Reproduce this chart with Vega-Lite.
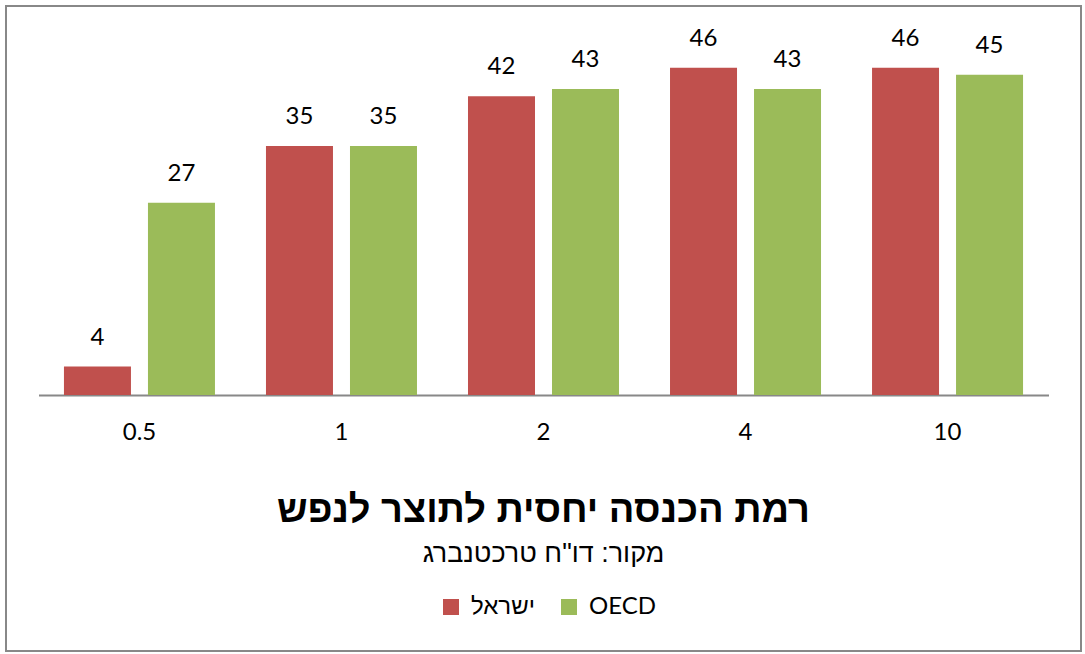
{
  "$schema": "https://vega.github.io/schema/vega-lite/v6.json",
  "width": 1075,
  "height": 645,
  "autosize": {"type": "none"},
  "padding": {"left": 6, "top": 6, "right": 4, "bottom": 3},
  "background": "white",
  "data": {
    "values": [
      {"cat": "0.5", "series": "ישראל", "value": 4},
      {"cat": "0.5", "series": "OECD", "value": 27},
      {"cat": "1", "series": "ישראל", "value": 35},
      {"cat": "1", "series": "OECD", "value": 35},
      {"cat": "2", "series": "ישראל", "value": 42},
      {"cat": "2", "series": "OECD", "value": 43},
      {"cat": "4", "series": "ישראל", "value": 46},
      {"cat": "4", "series": "OECD", "value": 43},
      {"cat": "10", "series": "ישראל", "value": 46},
      {"cat": "10", "series": "OECD", "value": 45}
    ]
  },
  "title": {
    "text": "רמת הכנסה יחסית לתוצר לנפש",
    "subtitle": "מקור: דו\"ח טרכטנברג",
    "orient": "bottom",
    "anchor": "middle",
    "offset": -159,
    "font": "Liberation Sans",
    "fontSize": 38,
    "fontWeight": "bold",
    "color": "black",
    "subtitleFont": "Liberation Sans",
    "subtitleFontSize": 27,
    "subtitleColor": "black",
    "subtitlePadding": 11
  },
  "encoding": {
    "x": {
      "field": "cat",
      "type": "nominal",
      "sort": ["0.5", "1", "2", "4", "10"],
      "scale": {"type": "band", "range": [32.5, 1042.5], "paddingInner": 0.2525, "paddingOuter": 0.126},
      "axis": {
        "orient": "bottom",
        "offset": -256,
        "title": null,
        "labelAngle": 0,
        "ticks": false,
        "tickSize": 0,
        "grid": false,
        "domainColor": "#888888",
        "domainWidth": 2,
        "labelFont": "Lato",
        "labelFontSize": 24,
        "labelColor": "black",
        "labelBaseline": "alphabetic",
        "labelPadding": 44
      }
    },
    "xOffset": {
      "field": "series",
      "type": "nominal",
      "sort": ["ישראל", "OECD"],
      "scale": {"paddingInner": 0.2024, "paddingOuter": 0}
    },
    "y": {
      "field": "value",
      "type": "quantitative",
      "scale": {"domain": [0, 50], "range": [389, 33.2], "nice": false},
      "axis": null
    }
  },
  "layer": [
    {
      "mark": {"type": "bar"},
      "encoding": {
        "color": {
          "field": "series",
          "type": "nominal",
          "sort": ["ישראל", "OECD"],
          "scale": {"domain": ["ישראל", "OECD"], "range": ["#C0504D", "#9BBB59"]},
          "legend": {
            "title": null,
            "orient": "none",
            "legendX": 433,
            "legendY": 589,
            "direction": "horizontal",
            "symbolType": "square",
            "symbolSize": 256,
            "symbolStrokeWidth": 0,
            "labelFont": "Lato, Liberation Sans",
            "labelFontSize": 24,
            "labelColor": "black",
            "labelOffset": 8,
            "columnPadding": 22,
            "padding": 0
          }
        }
      }
    },
    {
      "mark": {"type": "text", "baseline": "alphabetic", "dy": -22, "font": "Lato", "fontSize": 24, "color": "black"},
      "encoding": {
        "text": {"field": "value", "type": "quantitative"}
      }
    }
  ],
  "config": {
    "view": {"stroke": "#888888", "strokeWidth": 2}
  }
}
